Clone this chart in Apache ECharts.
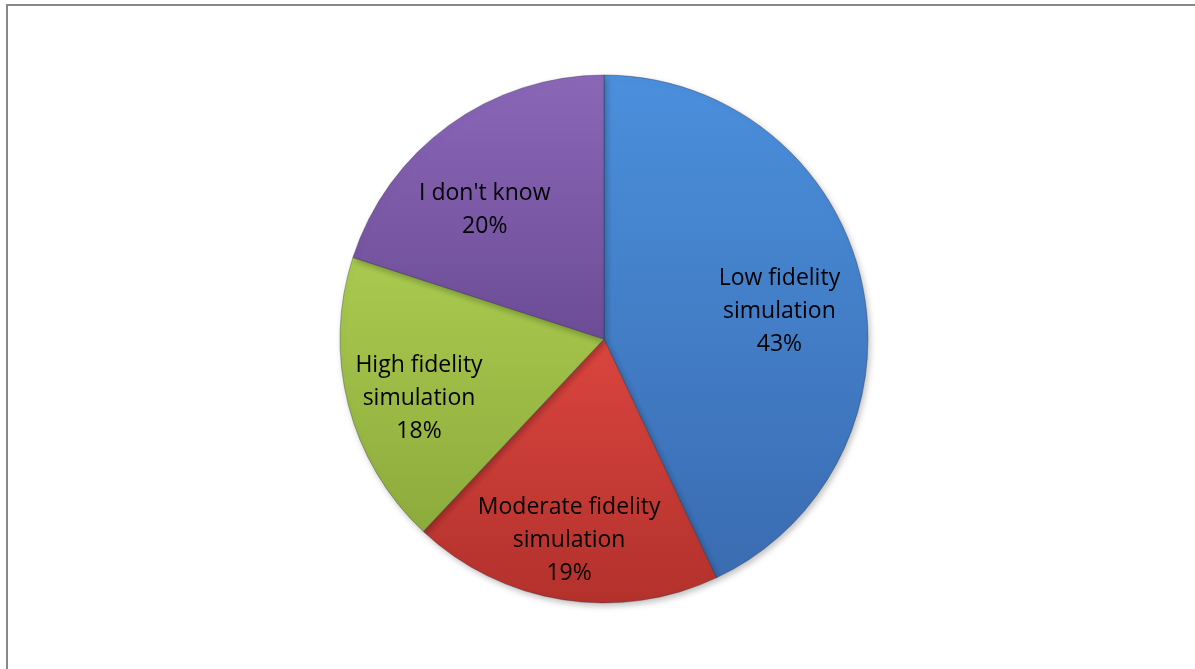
<!DOCTYPE html>
<html><head><meta charset="utf-8">
<script src="https://cdn.jsdelivr.net/npm/echarts@6/dist/echarts.min.js"></script>
<style>
html,body{margin:0;padding:0;background:#fff;}
#frame{position:absolute;left:6px;top:4px;width:1200px;height:700px;border-top:2px solid #888;border-left:2px solid #888;}
#main{position:absolute;left:0;top:0;width:1195px;height:669px;}
</style></head>
<body>
<div id="frame"></div>
<div id="main"></div>
<script>
const categories = ['Low fidelity\nsimulation', 'Moderate fidelity\nsimulation', 'High fidelity\nsimulation', "I don't know"];
const values = [43, 19, 18, 20];
const topColors = ['#4b8fdc', '#da453f', '#a9ca4f', '#8b67b8'];
const bottomColors = ['#3a6cb1', '#b3312c', '#8dab3c', '#6c4c96'];
const labelShift = [[-11, 14], [-5, 13], [0, 12], [-7, 25]];

const chart = echarts.init(document.getElementById('main'));
const data = categories.map((c, i) => ({
  name: c,
  value: values[i],
  itemStyle: {
    color: new echarts.graphic.LinearGradient(0, 0, 0, 1, [
      {offset: 0, color: topColors[i]},
      {offset: 1, color: bottomColors[i]}
    ])
  }
}));
const labelData = categories.map((c, i) => ({name: c, value: values[i]}));

chart.setOption({
  animation: false,
  series: [
    {
      type: 'pie',
      center: [604, 339],
      radius: [0, 264],
      startAngle: 90,
      clockwise: true,
      silent: true,
      label: {show: false},
      labelLine: {show: false},
      itemStyle: {
        borderColor: 'rgba(40,40,60,0.35)',
        borderWidth: 1,
        shadowBlur: 6,
        shadowOffsetX: 2,
        shadowOffsetY: 3,
        shadowColor: 'rgba(0,0,0,0.25)'
      },
      data: data
    },
    {
      type: 'pie',
      center: [604, 339],
      radius: [112, 264],
      startAngle: 90,
      clockwise: true,
      silent: true,
      itemStyle: {color: 'rgba(0,0,0,0)'},
      labelLine: {show: false},
      label: {
        show: true,
        position: 'inside',
        formatter: p => p.name + '\n' + p.value + '%',
        color: '#000',
        fontFamily: '"Open Sans", sans-serif',
        fontSize: 23,
        lineHeight: 33
      },
      labelLayout: p => ({dx: labelShift[p.dataIndex][0], dy: labelShift[p.dataIndex][1]}),
      data: labelData
    }
  ]
});
</script>
</body></html>
